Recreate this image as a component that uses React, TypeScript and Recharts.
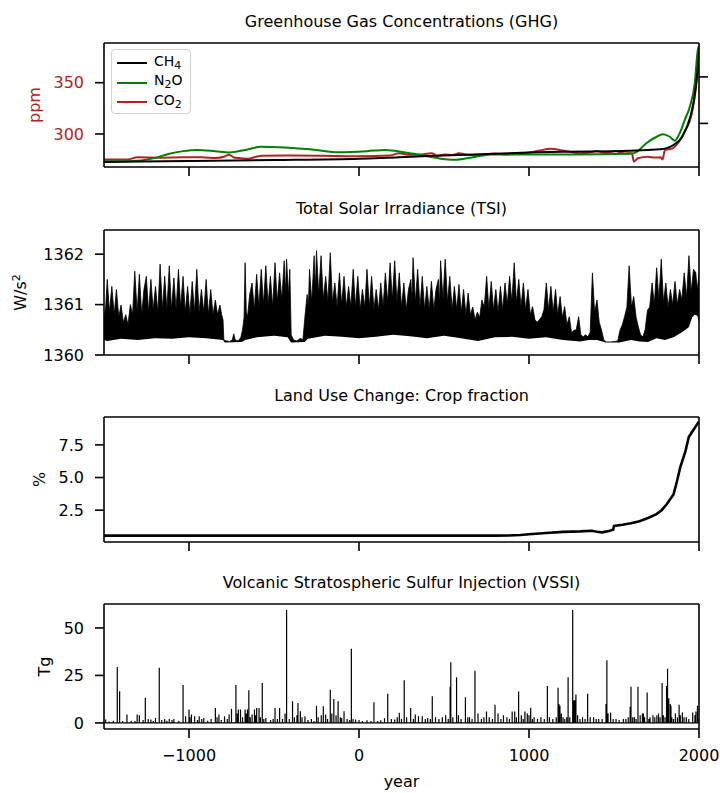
import React from 'react';
import { LineChart, ComposedChart, Line, Area, XAxis, YAxis, Label, ReferenceLine } from 'recharts';

const FONT = '"DejaVu Sans", "Liberation Sans", sans-serif';
const RED = '#b22222';
const GREEN = '#008000';
const BLACK = '#000000';

const xTicks = [-1000, 0, 1000, 2000];

// ---------- Greenhouse gases ----------
// CO2 (ppm, left axis)
const co2: [number, number][] = [
  [-1500, 275.2], [-1359, 275.2], [-1305, 277.2], [-1170, 276.9], [-1035, 277.2], [-927, 277.2],
  [-845, 276.5], [-790, 278], [-764, 279.8], [-735, 277], [-710, 276.5], [-656, 275.9], [-600, 278],
  [-575, 278.8], [-440, 279.1], [-223, 278.8], [-7, 278.4], [183, 279.1], [237, 281.1], [291, 279.8],
  [360, 280], [426, 281.1], [460, 279], [507, 280.1], [550, 279.5], [588, 281.1], [650, 279.5],
  [723, 279.8], [800, 281], [859, 280.1], [950, 281], [1048, 283.3], [1129, 285.5], [1180, 284.4],
  [1210, 283.3], [1260, 282], [1299, 281.2], [1346, 281.6], [1400, 283.3], [1450, 281.5], [1508, 283.3],
  [1560, 281], [1605, 281.2], [1617, 273.0], [1640, 276.3], [1699, 277.8], [1740, 277], [1775, 277.3],
  [1785, 275], [1800, 284.4], [1846, 286.0], [1875, 290.9], [1916, 302.2], [1958, 320.2], [1987, 352.6],
  [2000, 381],
];
// CH4 (ppb, right axis)
const ch4: [number, number][] = [
  [-1500, 585], [-1000, 596], [-500, 606], [0, 620], [500, 655], [1000, 687], [1200, 696], [1500, 701],
  [1700, 714], [1770, 721], [1850, 768], [1900, 854], [1950, 1079], [1970, 1252], [1990, 1542], [2000, 1778],
];
// N2O (ppb, own hidden axis)
const n2o: [number, number][] = [
  [-1500, 262.0], [-1332, 262.2], [-1224, 263.2], [-1116, 265.6], [-1035, 266.9], [-954, 267.5],
  [-845, 266.9], [-764, 266.3], [-656, 267.7], [-575, 269.0], [-440, 268.7], [-277, 267.7], [-115, 266.4],
  [47, 266.9], [155, 267.5], [264, 266.4], [372, 264.9], [480, 263.3], [561, 262.8], [669, 264.0],
  [778, 265.3], [994, 265.3], [1265, 265.3], [1589, 265.6], [1634, 266.6], [1692, 270.8], [1751, 273.8],
  [1787, 275.0], [1828, 273.8], [1857, 271.9], [1887, 275.6], [1916, 281.8], [1946, 288.2], [1975, 299.5],
  [1993, 315.4], [2000, 317.3],
];

// ---------- Total solar irradiance (W/m2) ----------
const tsiUpper: [number, number][] = [
  [-1500, 1360.75], [-1490, 1360.95], [-1481, 1361.5], [-1468, 1360.85], [-1454, 1361.36], [-1440, 1360.8],
  [-1427, 1361.3], [-1413, 1360.75], [-1400, 1360.99], [-1386, 1360.65], [-1372, 1360.8], [-1359, 1360.6],
  [-1345, 1361.0], [-1332, 1360.8], [-1319, 1361.66], [-1305, 1360.85], [-1292, 1361.6], [-1278, 1360.8],
  [-1265, 1361.3], [-1251, 1361.56], [-1238, 1360.85], [-1224, 1361.5], [-1211, 1360.9], [-1197, 1361.36],
  [-1183, 1360.85], [-1170, 1361.8], [-1156, 1360.9], [-1143, 1361.56], [-1130, 1360.9], [-1116, 1361.77],
  [-1103, 1360.9], [-1089, 1361.53], [-1076, 1360.9], [-1062, 1361.7], [-1049, 1360.95], [-1035, 1361.56],
  [-1022, 1360.85], [-1008, 1361.36], [-995, 1360.8], [-981, 1361.46], [-968, 1360.85], [-954, 1361.7],
  [-941, 1360.85], [-927, 1361.3], [-913, 1360.85], [-899, 1361.5], [-886, 1360.8], [-872, 1361.3],
  [-859, 1360.8], [-845, 1361.09], [-832, 1360.8], [-818, 1360.99], [-808, 1360.8], [-800, 1360.7],
  [-795, 1360.3], [-780, 1360.28], [-760, 1360.27], [-745, 1360.3], [-737, 1360.42], [-728, 1360.3],
  [-710, 1360.28], [-695, 1360.35], [-685, 1360.5], [-676, 1360.75], [-670, 1361.83], [-663, 1360.85],
  [-656, 1360.75], [-643, 1361.2], [-629, 1361.43], [-616, 1360.9], [-602, 1361.6], [-589, 1360.95],
  [-575, 1361.7], [-562, 1361.0], [-548, 1361.77], [-535, 1361.0], [-521, 1361.56], [-508, 1360.95],
  [-494, 1361.83], [-481, 1361.05], [-467, 1361.63], [-454, 1361.1], [-440, 1361.87], [-433, 1361.2],
  [-426, 1361.9], [-415, 1361.2], [-407, 1361.7], [-402, 1360.9], [-399, 1360.4], [-385, 1360.3],
  [-365, 1360.28], [-345, 1360.33], [-330, 1360.3], [-318, 1360.76], [-305, 1361.2], [-298, 1360.95],
  [-291, 1361.7], [-278, 1361.05], [-264, 1361.97], [-257, 1361.3], [-250, 1362.07], [-237, 1361.2],
  [-223, 1361.97], [-210, 1361.1], [-196, 1361.56], [-183, 1361.05], [-169, 1362.03], [-156, 1361.05],
  [-142, 1361.43], [-129, 1360.95], [-115, 1361.63], [-102, 1361.0], [-88, 1361.56], [-75, 1360.95],
  [-61, 1361.36], [-48, 1360.95], [-34, 1361.7], [-21, 1360.95], [-7, 1361.56], [7, 1360.9],
  [20, 1361.3], [34, 1360.95], [47, 1361.7], [61, 1360.95], [74, 1361.56], [88, 1360.9], [101, 1361.3],
  [115, 1360.9], [128, 1361.43], [142, 1360.95], [155, 1361.63], [169, 1361.05], [183, 1361.83],
  [196, 1361.1], [210, 1361.87], [223, 1361.05], [237, 1361.63], [250, 1360.95], [264, 1361.43],
  [278, 1360.9], [291, 1361.3], [305, 1361.5], [311, 1361.05], [318, 1361.93], [332, 1361.05],
  [345, 1361.7], [359, 1360.95], [372, 1361.56], [386, 1360.9], [399, 1361.36], [413, 1360.9],
  [426, 1361.46], [440, 1360.9], [453, 1361.3], [467, 1361.5], [473, 1361.0], [480, 1361.87],
  [494, 1361.1], [507, 1361.9], [521, 1361.05], [534, 1361.56], [548, 1360.9], [561, 1361.36],
  [575, 1360.9], [588, 1361.4], [602, 1360.85], [615, 1361.3], [629, 1360.8], [642, 1361.23],
  [655, 1360.8], [669, 1360.95], [683, 1360.7], [696, 1360.85], [710, 1360.75], [723, 1361.09],
  [737, 1360.95], [751, 1361.56], [764, 1360.9], [778, 1361.46], [791, 1360.9], [805, 1361.3],
  [818, 1360.85], [832, 1361.36], [845, 1360.9], [859, 1361.43], [872, 1361.0], [886, 1361.56],
  [899, 1361.05], [913, 1361.83], [926, 1361.05], [940, 1361.5], [953, 1360.95], [967, 1361.43],
  [980, 1360.9], [994, 1361.3], [1008, 1360.8], [1021, 1360.96], [1035, 1360.7], [1048, 1360.65],
  [1061, 1360.7], [1075, 1360.76], [1088, 1360.9], [1102, 1361.43], [1115, 1360.9], [1129, 1361.36],
  [1142, 1360.85], [1156, 1361.3], [1169, 1360.8], [1183, 1361.16], [1196, 1360.75], [1210, 1360.96],
  [1223, 1360.6], [1237, 1360.76], [1250, 1360.45], [1265, 1360.49], [1278, 1360.5], [1292, 1360.76],
  [1305, 1360.4], [1319, 1360.36], [1332, 1360.4], [1346, 1360.36], [1360, 1360.45], [1373, 1361.63],
  [1386, 1360.85], [1400, 1361.09], [1413, 1360.65], [1427, 1360.49], [1440, 1360.3], [1454, 1360.26],
  [1480, 1360.26], [1505, 1360.27], [1522, 1360.28], [1535, 1360.49], [1549, 1360.6], [1562, 1360.76],
  [1576, 1360.95], [1589, 1361.77], [1603, 1360.95], [1616, 1361.16], [1630, 1360.75], [1643, 1360.56],
  [1656, 1360.4], [1670, 1360.36], [1683, 1360.5], [1697, 1360.89], [1710, 1360.95], [1724, 1361.43],
  [1737, 1361.0], [1751, 1361.73], [1764, 1361.1], [1778, 1361.9], [1791, 1361.05], [1805, 1361.43],
  [1818, 1360.95], [1832, 1361.3], [1845, 1361.0], [1859, 1361.46], [1872, 1361.0], [1886, 1361.3],
  [1899, 1361.1], [1913, 1361.63], [1927, 1361.15], [1941, 1361.97], [1954, 1361.25], [1968, 1361.7],
  [1981, 1361.63], [1990, 1361.3], [2000, 1361.6],
];
const tsiLower: [number, number][] = [
  [-1500, 1360.3], [-1480, 1360.28], [-1400, 1360.32], [-1300, 1360.3], [-1200, 1360.33], [-1100, 1360.32],
  [-1000, 1360.35], [-900, 1360.33], [-800, 1360.3], [-790, 1360.25], [-690, 1360.26], [-670, 1360.3],
  [-600, 1360.35], [-500, 1360.38], [-420, 1360.35], [-400, 1360.25], [-320, 1360.26], [-300, 1360.32],
  [-200, 1360.38], [-100, 1360.36], [0, 1360.33], [100, 1360.36], [200, 1360.4], [300, 1360.37],
  [400, 1360.33], [500, 1360.38], [600, 1360.33], [700, 1360.28], [800, 1360.35], [900, 1360.36],
  [1000, 1360.32], [1100, 1360.35], [1200, 1360.3], [1300, 1360.27], [1350, 1360.3], [1400, 1360.3],
  [1450, 1360.25], [1530, 1360.25], [1600, 1360.3], [1650, 1360.27], [1700, 1360.26], [1750, 1360.33],
  [1800, 1360.3], [1850, 1360.35], [1900, 1360.45], [1940, 1360.55], [1960, 1360.75], [1975, 1360.8],
  [1990, 1360.78], [2000, 1360.65],
];

// ---------- Land use: crop fraction (%) ----------
const crop: [number, number][] = [
  [-1500, 0.55], [800, 0.55], [880, 0.56], [950, 0.6], [1000, 0.66], [1100, 0.75], [1200, 0.84],
  [1300, 0.88], [1370, 0.93], [1400, 0.85], [1430, 0.8], [1470, 0.9], [1495, 1.0], [1500, 1.3],
  [1550, 1.38], [1600, 1.5], [1650, 1.65], [1700, 1.9], [1750, 2.2], [1780, 2.5], [1810, 2.95],
  [1850, 3.7], [1870, 4.7], [1890, 5.8], [1920, 7.0], [1940, 8.1], [1960, 8.5], [1980, 8.9], [2000, 9.3],
];

// ---------- Volcanic stratospheric sulfur injection (Tg) ----------
const vssi: [number, number][] = [
  [-1490, 1.8], [-1470, 0.8], [-1445, 1.2], [-1422, 29.5], [-1408, 16.7], [-1390, 1], [-1365, 4.4],
  [-1340, 1.2], [-1318, 1], [-1305, 4.4], [-1292, 4.0], [-1270, 1.5], [-1257, 13.2], [-1240, 2],
  [-1224, 1.8], [-1210, 1], [-1197, 2.6], [-1175, 29], [-1160, 1.5], [-1143, 2.1], [-1130, 1.2],
  [-1116, 2.1], [-1100, 1.5], [-1089, 2.1], [-1060, 1], [-1035, 20], [-1020, 3.5], [-1000, 7],
  [-995, 3], [-986, 4.4], [-967, 3.5], [-950, 1.5], [-940, 3.5], [-925, 2], [-913, 2.6], [-890, 1.2],
  [-870, 2], [-845, 7.9], [-835, 3], [-824, 4.4], [-810, 1.5], [-791, 3.5], [-775, 2], [-764, 4.4],
  [-750, 7.5], [-724, 20], [-716, 5], [-710, 7], [-697, 7], [-685, 3], [-670, 7], [-663, 5], [-656, 7],
  [-648, 17.2], [-640, 3], [-629, 4.4], [-615, 7], [-608, 4], [-602, 7.9], [-588, 7.9], [-580, 3],
  [-569, 21], [-560, 2], [-548, 2.6], [-520, 1.5], [-505, 2], [-494, 7.9], [-480, 2], [-467, 7.9],
  [-450, 2], [-435, 5], [-426, 59.6], [-410, 2], [-391, 11.4], [-380, 3], [-365, 4], [-359, 10.5],
  [-345, 6.1], [-335, 3], [-318, 3.5], [-300, 1.5], [-280, 2], [-265, 1], [-250, 9.1], [-240, 3],
  [-222, 4], [-210, 8.8], [-196, 4.4], [-185, 2], [-169, 17.5], [-160, 5], [-148, 12.6], [-135, 4],
  [-123, 11.4], [-110, 3], [-102, 2.6], [-88, 6.1], [-70, 2], [-55, 1.5], [-45, 39], [-35, 2],
  [-20, 1.8], [0, 1.5], [20, 1], [47, 1.4], [70, 1], [88, 10.9], [110, 1], [128, 1.4], [150, 2.5],
  [169, 15.3], [190, 2], [210, 1.8], [225, 3], [237, 5.3], [250, 2], [266, 22.5], [280, 3], [304, 7.9],
  [320, 2], [331, 4.4], [350, 3.5], [372, 3.5], [390, 2], [404, 2.6], [420, 2], [431, 14], [450, 3],
  [470, 2], [490, 3], [510, 4], [525, 2], [536, 19], [540, 32], [552, 3], [574, 24], [585, 4], [600, 2],
  [626, 13.5], [640, 3], [650, 3], [665, 2], [682, 27.5], [700, 5], [720, 2], [735, 3], [750, 6],
  [766, 3], [785, 2], [800, 9.5], [818, 5], [835, 2], [850, 4], [870, 3], [885, 2], [901, 6], [916, 6],
  [926, 3], [939, 16.5], [955, 4], [966, 2], [976, 6], [990, 5], [1000, 4], [1010, 8], [1020, 2],
  [1030, 3], [1050, 2], [1070, 3], [1090, 2], [1108, 19.5], [1120, 3], [1140, 2], [1160, 3],
  [1171, 18.5], [1176, 10], [1182, 9], [1190, 5], [1200, 3], [1210, 2], [1222, 3], [1230, 24],
  [1240, 3], [1257, 59.5], [1262, 12], [1269, 12], [1276, 15], [1286, 4], [1300, 2], [1315, 3],
  [1330, 2], [1345, 15.3], [1360, 3], [1380, 3], [1395, 2], [1410, 2], [1430, 2], [1453, 10],
  [1458, 33], [1465, 5], [1480, 5.5], [1495, 2], [1512, 2], [1530, 1.5], [1555, 2], [1570, 2],
  [1584, 3], [1595, 8.5], [1600, 19], [1610, 3], [1620, 3], [1630, 2], [1641, 19], [1654, 4], [1667, 5],
  [1673, 5], [1680, 3], [1695, 16], [1705, 2], [1712, 3], [1729, 4], [1740, 3], [1752, 4], [1762, 5],
  [1771, 3], [1783, 21], [1790, 4], [1800, 3], [1809, 19.5], [1815, 28.5], [1822, 13], [1831, 10],
  [1835, 9], [1840, 3], [1850, 2], [1861, 5], [1873, 3], [1883, 9.5], [1890, 4], [1902, 5.5],
  [1912, 3], [1925, 3], [1940, 2], [1963, 5.5], [1976, 4], [1982, 6], [1991, 9], [1998, 2],
];

const toRows = (arr: [number, number][]) => arr.map(([year, v]) => ({ year, v }));
const co2Data = toRows(co2);
const ch4Data = toRows(ch4);
const n2oData = toRows(n2o);
const tsiUpperData = toRows(tsiUpper);
const tsiLowerData = toRows(tsiLower);
const cropData = toRows(crop);
const vssiData = [
  { year: -1500, v: 0 },
  ...vssi.flatMap(([year, v]) => [
    { year, v: 0 },
    { year, v },
    { year, v: 0 },
  ]),
  { year: 2000, v: 0 },
];

const AX = { stroke: BLACK, strokeWidth: 1.6 };
const TICK = { fill: BLACK, fontSize: 16, fontFamily: FONT };
const blank = () => '';

const titleContent = (text: string) => (props: any) => {
  const vb = props.viewBox || {};
  return (
    <text x={vb.x + vb.width / 2} y={vb.y - 16} textAnchor="middle" fontSize={16} fontFamily={FONT} fill={BLACK}>
      {text}
    </text>
  );
};

const yLabelContent = (content: React.ReactNode, bx: number, color: string) => (props: any) => {
  const vb = props.viewBox || {};
  const cy = vb.y + vb.height / 2;
  return (
    <text x={bx} y={cy} transform={`rotate(-90 ${bx} ${cy})`} textAnchor="middle" fontSize={16} fontFamily={FONT} fill={color}>
      {content}
    </text>
  );
};

const legendItems = [
  { label: 'CH', sub: '4', color: BLACK },
  { label: 'N', sub: '2', tail: 'O', color: GREEN },
  { label: 'CO', sub: '2', color: RED },
];

function GhgLegend() {
  return (
    <div
      style={{
        position: 'absolute', left: 111, top: 49, width: 80, height: 65, boxSizing: 'border-box',
        border: '1px solid #d0d0d0', borderRadius: 4, background: 'rgba(255,255,255,0.85)',
        fontFamily: FONT, fontSize: 14, color: BLACK,
      }}
    >
      {legendItems.map((it, i) => (
        <div key={i} style={{ position: 'absolute', left: 5, top: 3 + i * 19.7, height: 20, display: 'flex', alignItems: 'center' }}>
          <span style={{ display: 'inline-block', width: 30, height: 2, background: it.color, marginRight: 7 }} />
          <span style={{ whiteSpace: 'nowrap', lineHeight: '20px' }}>
            {it.label}
            <sub style={{ fontSize: 11, verticalAlign: '-3px' }}>{it.sub}</sub>
            {it.tail || ''}
          </span>
        </div>
      ))}
    </div>
  );
}

const W = 720;
const M = { top: 43, right: 0, bottom: 0, left: 0 };

export default function App() {
  return (
    <div style={{ position: 'absolute', left: 0, top: 0, width: 720, height: 793, background: '#fff', overflow: 'hidden' }}>
      {/* Panel 1: GHG */}
      <div style={{ position: 'absolute', left: 0, top: 0 }}>
        <LineChart width={W} height={187} margin={{ top: 43, right: 0, bottom: 0, left: 0 }}>
          <Line yAxisId="co2" data={co2Data} dataKey="v" type="monotone" stroke={RED} strokeWidth={2} dot={false} isAnimationActive={false} />
          <Line yAxisId="n2o" data={n2oData} dataKey="v" type="monotone" stroke={GREEN} strokeWidth={2} dot={false} isAnimationActive={false} />
          <Line yAxisId="ch4" data={ch4Data} dataKey="v" type="monotone" stroke={BLACK} strokeWidth={2} dot={false} isAnimationActive={false} />
          <XAxis dataKey="year" type="number" domain={[-1500, 2000]} allowDataOverflow ticks={xTicks} tickFormatter={blank} height={20} tickSize={9} axisLine={AX} tickLine={AX} tick={TICK} />
          <YAxis yAxisId="co2" type="number" domain={[267.8, 388.7]} allowDataOverflow ticks={[300, 350]} width={104} tickSize={9} tickMargin={11} axisLine={AX} tickLine={AX} tick={{ ...TICK, fill: RED }}>
            <Label content={yLabelContent('ppm', 39.5, RED)} />
          </YAxis>
          <YAxis yAxisId="ch4" orientation="right" type="number" domain={[531, 1865]} allowDataOverflow ticks={[1000, 1500]} tickFormatter={blank} width={21} tickSize={9} axisLine={AX} tickLine={AX} tick={TICK} />
          <YAxis yAxisId="n2o" hide type="number" domain={[259.3, 318.7]} allowDataOverflow />
          <ReferenceLine yAxisId="co2" y={388.7} stroke={BLACK} strokeWidth={1.6}>
            <Label content={titleContent('Greenhouse Gas Concentrations (GHG)')} />
          </ReferenceLine>
        </LineChart>
        <GhgLegend />
      </div>

      {/* Panel 2: TSI */}
      <div style={{ position: 'absolute', left: 0, top: 187 }}>
        <ComposedChart width={W} height={187} margin={M}>
          <Area data={tsiUpperData} dataKey="v" type="linear" stroke={BLACK} strokeWidth={0.8} fill={BLACK} fillOpacity={1} baseValue={1360} dot={false} activeDot={false} isAnimationActive={false} />
          <Area data={tsiLowerData} dataKey="v" type="linear" stroke="none" fill="#ffffff" fillOpacity={1} baseValue={1360} dot={false} activeDot={false} isAnimationActive={false} />
          <XAxis dataKey="year" type="number" domain={[-1500, 2000]} allowDataOverflow ticks={xTicks} tickFormatter={blank} height={19} tickSize={9} axisLine={AX} tickLine={AX} tick={TICK} />
          <YAxis type="number" domain={[1360, 1362.48]} allowDataOverflow ticks={[1360, 1361, 1362]} width={104} tickSize={9} tickMargin={11} axisLine={AX} tickLine={AX} tick={TICK}>
            <Label content={yLabelContent(<>W/s<tspan dy={-6} fontSize={11}>2</tspan></>, 26, BLACK)} />
          </YAxis>
          <YAxis yAxisId="r" orientation="right" type="number" domain={[1360, 1362.48]} width={21} tick={false} tickLine={false} axisLine={AX} />
          <ReferenceLine y={1362.48} stroke={BLACK} strokeWidth={1.6}>
            <Label content={titleContent('Total Solar Irradiance (TSI)')} />
          </ReferenceLine>
        </ComposedChart>
      </div>

      {/* Panel 3: Land use */}
      <div style={{ position: 'absolute', left: 0, top: 374 }}>
        <LineChart width={W} height={187} margin={M}>
          <Line data={cropData} dataKey="v" type="linear" stroke={BLACK} strokeWidth={2.6} dot={false} isAnimationActive={false} />
          <XAxis dataKey="year" type="number" domain={[-1500, 2000]} allowDataOverflow ticks={xTicks} tickFormatter={blank} height={19} tickSize={9} axisLine={AX} tickLine={AX} tick={TICK} />
          <YAxis type="number" domain={[0.065, 9.635]} allowDataOverflow ticks={[2.5, 5, 7.5]} tickFormatter={(v: number) => v.toFixed(1)} width={104} tickSize={9} tickMargin={11} axisLine={AX} tickLine={AX} tick={TICK}>
            <Label content={yLabelContent('%', 45, BLACK)} />
          </YAxis>
          <YAxis yAxisId="r" orientation="right" type="number" domain={[0, 10]} width={21} tick={false} tickLine={false} axisLine={AX} />
          <ReferenceLine y={9.635} stroke={BLACK} strokeWidth={1.6}>
            <Label content={titleContent('Land Use Change: Crop fraction')} />
          </ReferenceLine>
        </LineChart>
      </div>

      {/* Panel 4: VSSI */}
      <div style={{ position: 'absolute', left: 0, top: 561 }}>
        <LineChart width={W} height={232} margin={M}>
          <Line data={vssiData} dataKey="v" type="linear" stroke={BLACK} strokeWidth={1.2} dot={false} isAnimationActive={false} />
          <XAxis dataKey="year" type="number" domain={[-1500, 2000]} allowDataOverflow ticks={xTicks} tickFormatter={(v: number) => (v < 0 ? `\u2212${Math.abs(v)}` : `${v}`)} height={64} tickSize={9} tickMargin={12} axisLine={AX} tickLine={AX} tick={TICK}>
            <Label content={(p: any) => {
              const vb = p.viewBox || {};
              return (
                <text x={vb.x + vb.width / 2} y={vb.y + 58} textAnchor="middle" fontSize={16} fontFamily={FONT} fill={BLACK}>year</text>
              );
            }} />
          </XAxis>
          <YAxis type="number" domain={[-3.2, 62.6]} allowDataOverflow ticks={[0, 25, 50]} width={104} tickSize={9} tickMargin={11} axisLine={AX} tickLine={AX} tick={TICK}>
            <Label content={yLabelContent('Tg', 49.6, BLACK)} />
          </YAxis>
          <YAxis yAxisId="r" orientation="right" type="number" domain={[0, 10]} width={21} tick={false} tickLine={false} axisLine={AX} />
          <ReferenceLine y={62.6} stroke={BLACK} strokeWidth={1.6}>
            <Label content={titleContent('Volcanic Stratospheric Sulfur Injection (VSSI)')} />
          </ReferenceLine>
        </LineChart>
      </div>
    </div>
  );
}
